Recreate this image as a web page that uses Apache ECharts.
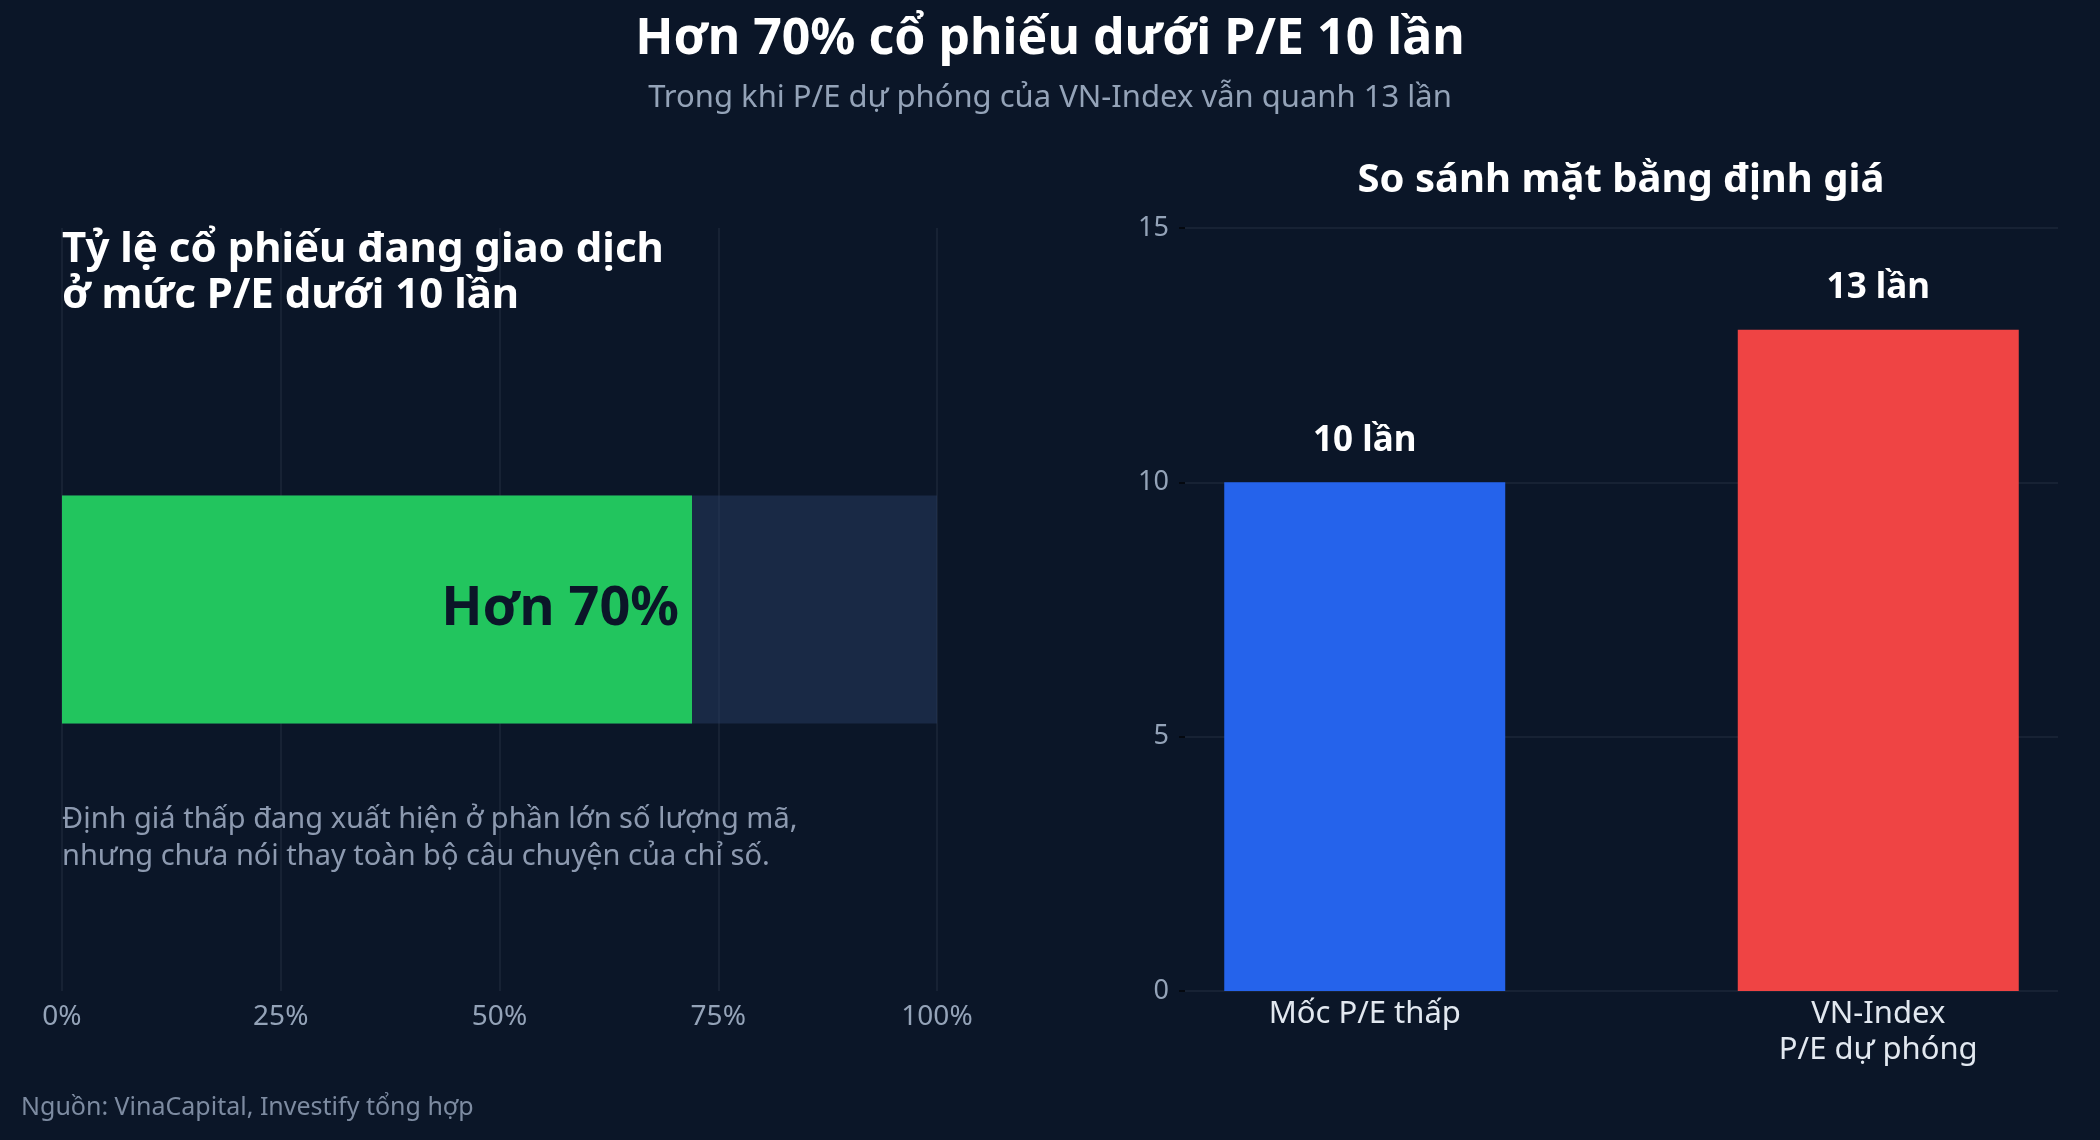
<!DOCTYPE html>
<html>
<head>
<meta charset="utf-8">
<script src="https://cdn.jsdelivr.net/npm/echarts@6/dist/echarts.min.js"></script>
<style>
  html, body { margin: 0; padding: 0; background: #0b1628; }
  #main { width: 2100px; height: 1140px; }
</style>
</head>
<body>
<div id="main"></div>
<script>
// left panel: share of stocks trading below P/E 10
var shareCategories = ['P/E < 10'];
var shareValues = [72];
var shareLabels = ['Hơn 70%'];
var shareTicks = [0, 25, 50, 75, 100];

// right panel: valuation comparison
var peCategories = ['Mốc P/E thấp', 'VN-Index\nP/E dự phóng'];
var pePositions = [0, 1];
var peValues = [10, 13];
var peLabels = ['10 lần', '13 lần'];
var peColors = ['#2563eb', '#ef4444'];

var FONT = '"Noto Sans", "Open Sans", sans-serif';
var chart = echarts.init(document.getElementById('main'));

var option = {
    backgroundColor: '#0b1628',
    animation: false,
    textStyle: { fontFamily: FONT },
    title: [
        {
            text: 'Hơn 70% cổ phiếu dưới P/E 10 lần',
            left: 'center',
            top: 10,
            textStyle: { color: '#ffffff', fontSize: 50, fontWeight: 'bold', fontFamily: FONT }
        },
        {
            text: 'Trong khi P/E dự phóng của VN-Index vẫn quanh 13 lần',
            left: 'center',
            top: 78,
            textStyle: { color: '#94a3b8', fontSize: 31, fontWeight: 'normal', fontFamily: FONT }
        },
        {
            text: 'Tỷ lệ cổ phiếu đang giao dịch\nở mức P/E dưới 10 lần',
            left: 57,
            top: 222,
            textStyle: { color: '#ffffff', fontSize: 42, fontWeight: 'bold', lineHeight: 46, fontFamily: FONT }
        },
        {
            text: 'Định giá thấp đang xuất hiện ở phần lớn số lượng mã,\nnhưng chưa nói thay toàn bộ câu chuyện của chỉ số.',
            left: 57,
            top: 796,
            textStyle: { color: '#8d9ab0', fontSize: 29, fontWeight: 'normal', lineHeight: 37, fontFamily: FONT }
        },
        {
            text: 'So sánh mặt bằng định giá',
            left: 1616,
            top: 156,
            textAlign: 'center',
            textStyle: { color: '#ffffff', fontSize: 40, fontWeight: 'bold', fontFamily: FONT }
        },
        {
            text: 'Nguồn: VinaCapital, Investify tổng hợp',
            left: 16,
            top: 1090,
            textStyle: { color: '#7d8ba1', fontSize: 25, fontWeight: 'normal', fontFamily: FONT }
        }
    ],
    grid: [
        { left: 62, right: 1163, top: 228, bottom: 149 },
        { left: 1185, right: 42, top: 228, bottom: 149 }
    ],
    xAxis: [
        {
            type: 'value',
            gridIndex: 0,
            min: shareTicks[0],
            max: shareTicks[shareTicks.length - 1],
            interval: 25,
            axisLine: { show: false },
            axisTick: { show: false },
            splitLine: { show: true, lineStyle: { color: '#1c2739', width: 1.5 } },
            axisLabel: {
                color: '#94a3b8',
                fontSize: 28,
                margin: 12,
                fontFamily: FONT,
                formatter: '{value}%'
            }
        },
        {
            type: 'value',
            gridIndex: 1,
            min: -0.35,
            max: 1.35,
            axisLine: { show: false },
            axisTick: { show: false },
            splitLine: { show: false },
            axisLabel: {
                customValues: pePositions,
                color: '#e2e8f0',
                fontSize: 31,
                lineHeight: 36,
                margin: 5,
                fontFamily: FONT,
                formatter: function (v) {
                    var i = pePositions.indexOf(Math.round(v));
                    return i >= 0 ? peCategories[i] : '';
                }
            }
        }
    ],
    yAxis: [
        {
            type: 'category',
            gridIndex: 0,
            data: shareCategories,
            show: false
        },
        {
            type: 'value',
            gridIndex: 1,
            min: 0,
            max: 15,
            interval: 5,
            axisLine: { show: false, onZero: false },
            axisTick: { show: true, length: 6, lineStyle: { color: '#04080f', width: 2 } },
            splitLine: { show: true, lineStyle: { color: '#1c2739', width: 1.5 } },
            axisLabel: {
                color: '#94a3b8',
                fontSize: 27,
                margin: 16,
                fontFamily: FONT
            }
        }
    ],
    series: [
        {
            type: 'bar',
            xAxisIndex: 0,
            yAxisIndex: 0,
            data: shareValues,
            barWidth: 228,
            itemStyle: { color: '#22c55e' },
            showBackground: true,
            backgroundStyle: { color: 'rgba(40,60,98,0.5)' },
            label: {
                show: true,
                position: 'insideRight',
                distance: 13,
                color: '#0b1628',
                fontSize: 54,
                fontWeight: 'bold',
                fontFamily: FONT,
                formatter: function (p) { return shareLabels[p.dataIndex]; }
            }
        },
        {
            type: 'bar',
            xAxisIndex: 1,
            yAxisIndex: 1,
            barWidth: 281,
            data: pePositions.map(function (x, i) {
                return { value: [x, peValues[i]], itemStyle: { color: peColors[i] } };
            }),
            label: {
                show: true,
                position: 'top',
                distance: 24,
                color: '#ffffff',
                fontSize: 35,
                fontWeight: 'bold',
                fontFamily: FONT,
                formatter: function (p) { return peLabels[p.dataIndex]; }
            }
        }
    ]
};

chart.setOption(option);
</script>
</body>
</html>
